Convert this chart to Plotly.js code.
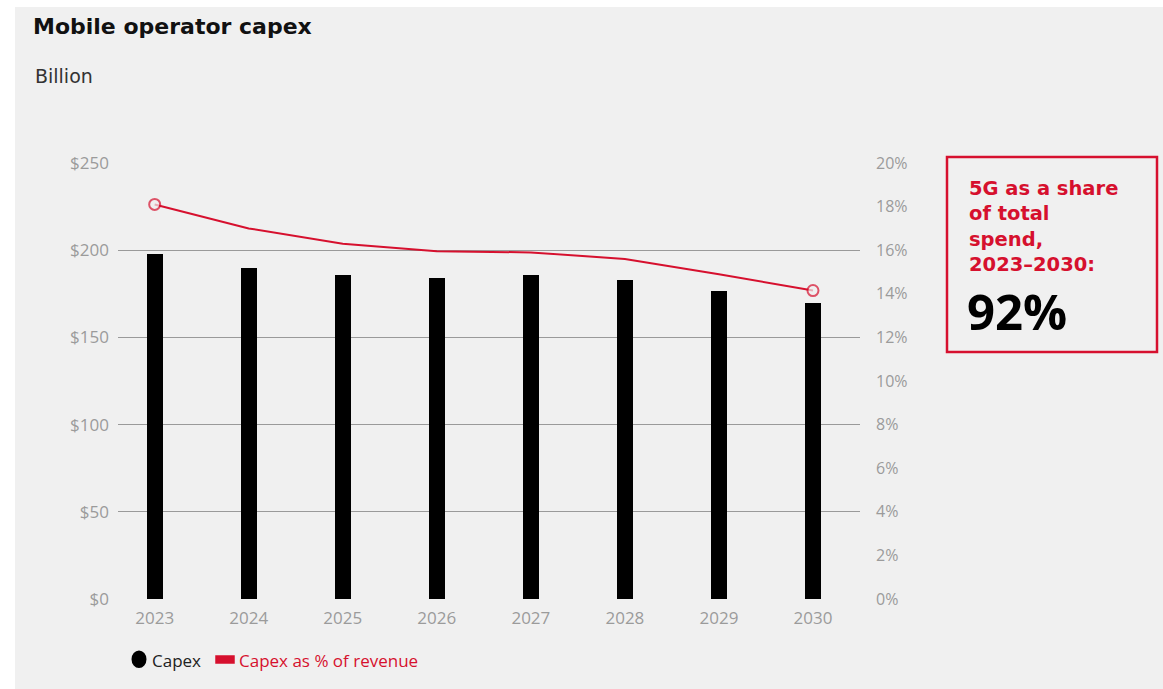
<!DOCTYPE html>
<html>
<head>
<meta charset="utf-8">
<script src="https://cdn.plot.ly/plotly-3.0.1.min.js"></script>
<style>
  html, body { margin: 0; padding: 0; background: #ffffff; width: 1163px; height: 689px; overflow: hidden; }
  #chart { position: absolute; left: 15px; top: 7px; width: 1148px; height: 682px; }
</style>
</head>
<body>
<div id="chart"></div>
<script>
// ---- data ----
const years = ['2023', '2024', '2025', '2026', '2027', '2028', '2029', '2030'];
const capexBillion = [198, 190, 185.5, 184, 185.5, 183, 176.5, 170];
const capexPctRevenue = [18.1, 17.0, 16.3, 15.95, 15.9, 15.6, 14.9, 14.15];
const leftTickVals = [0, 50, 100, 150, 200, 250];
const leftTickText = ['$0', '$50', '$100', '$150', '$200', '$250'];
const rightTickVals = [0, 2, 4, 6, 8, 10, 12, 14, 16, 18, 20];
const rightTickText = rightTickVals.map(v => v + '%');
const titleText = 'Mobile operator capex';
const unitText = 'Billion';
const calloutText = '5G as a share<br>of total<br>spend,<br>2023–2030:';
const calloutValue = '92%';
const legendNames = ['Capex', 'Capex as % of revenue'];

// ---- styles ----
const RED = '#d6102e';
const BG = '#f0f0f0';
const GRAY = '#9b9b9b';
const FONT = 'Open Sans, Noto Sans, sans-serif';
const WIDE = 'DejaVu Sans, Open Sans, sans-serif';

// page px -> paper coords helpers (plot area: page x 118..860, y 163..599)
const PX0 = 118, PX1 = 860, PY0 = 163, PY1 = 599;
const px = X => (X - PX0) / (PX1 - PX0);
const py = Y => (PY1 - Y) / (PY1 - PY0);

const markerSizes = capexPctRevenue.map((v, i) => (i === 0 || i === capexPctRevenue.length - 1) ? 11 : 0);

const traces = [
  {
    type: 'bar',
    x: years,
    y: capexBillion,
    name: legendNames[0],
    marker: { color: '#000000', line: { width: 0 } },
    width: 0.17,
    yaxis: 'y',
    showlegend: false,
    hoverinfo: 'x+y'
  },
  {
    type: 'scatter',
    mode: 'lines+markers',
    x: years,
    y: capexPctRevenue,
    name: legendNames[1],
    yaxis: 'y2',
    line: { color: RED, width: 2 },
    marker: { size: markerSizes, color: BG, line: { color: RED, width: 2 } },
    showlegend: false
  }
];

const layout = {
  width: 1148,
  height: 682,
  paper_bgcolor: BG,
  plot_bgcolor: BG,
  margin: { l: PX0 - 15, r: 1148 - (PX1 - 15), t: PY0 - 7, b: 682 - (PY1 - 7), pad: 0 },
  font: { family: FONT, color: GRAY },
  title: {
    text: '<b>' + titleText + '</b>',
    font: { family: WIDE, size: 22, color: '#111111' },
    x: (33 - 15) / 1148, xanchor: 'left', xref: 'container',
    y: 1 - (26 - 7) / 682, yanchor: 'middle', yref: 'container'
  },
  showlegend: false,
  bargap: 0,
  xaxis: {
    type: 'category',
    range: [-0.39, 7.5],
    showgrid: false,
    zeroline: false,
    showline: false,
    ticks: '',
    tickfont: { family: FONT, size: 17, color: GRAY },
    ticklabelstandoff: 7,
    fixedrange: true
  },
  yaxis: {
    range: [0, 250],
    tickvals: leftTickVals,
    ticktext: leftTickText,
    showgrid: true,
    gridcolor: '#9a9a9a',
    gridwidth: 1,
    zeroline: false,
    showline: false,
    ticks: '',
    tickfont: { family: FONT, size: 17, color: GRAY },
    ticklabelstandoff: 8,
    fixedrange: true
  },
  yaxis2: {
    overlaying: 'y',
    side: 'right',
    range: [0, 20],
    tickvals: rightTickVals,
    ticktext: rightTickText,
    showgrid: false,
    zeroline: false,
    showline: false,
    ticks: '',
    tickfont: { family: FONT, size: 16, color: GRAY },
    ticklabelstandoff: 15,
    fixedrange: true
  },
  shapes: [
    // callout box
    { type: 'rect', xref: 'paper', yref: 'paper',
      x0: px(947), x1: px(1157), y0: py(352), y1: py(157),
      line: { color: RED, width: 2.5 }, fillcolor: 'rgba(0,0,0,0)' },
    // legend: black ellipse
    { type: 'circle', xref: 'paper', yref: 'paper',
      x0: px(131.5), x1: px(146.5), y0: py(668), y1: py(650.5),
      line: { width: 0 }, fillcolor: '#000000' },
    // legend: red rounded bar
    { type: 'rect', xref: 'paper', yref: 'paper',
      x0: px(216), x1: px(234), y0: py(663), y1: py(656),
      line: { color: RED, width: 1.5 }, fillcolor: RED }
  ],
  annotations: [
    { text: unitText, xref: 'paper', yref: 'paper', x: px(33), y: py(76),
      xanchor: 'left', yanchor: 'middle', showarrow: false,
      font: { family: WIDE, size: 19, color: '#333333' } },
    { text: '<b>' + calloutText + '</b>', xref: 'paper', yref: 'paper', x: px(967), y: py(175),
      xanchor: 'left', yanchor: 'top', align: 'left', showarrow: false,
      font: { family: WIDE, size: 19.5, color: RED } },
    { text: '<b>' + calloutValue + '</b>', xref: 'paper', yref: 'paper', x: px(965), y: py(311),
      xanchor: 'left', yanchor: 'middle', showarrow: false,
      font: { family: FONT, size: 49, color: '#000000' } },
    { text: legendNames[0], xref: 'paper', yref: 'paper', x: px(150), y: py(660),
      xanchor: 'left', yanchor: 'middle', showarrow: false,
      font: { family: FONT, size: 17, color: '#222222' } },
    { text: legendNames[1], xref: 'paper', yref: 'paper', x: px(237), y: py(660),
      xanchor: 'left', yanchor: 'middle', showarrow: false,
      font: { family: FONT, size: 17, color: RED } }
  ]
};

Plotly.newPlot('chart', traces, layout, { displayModeBar: false, staticPlot: true });
</script>
</body>
</html>
